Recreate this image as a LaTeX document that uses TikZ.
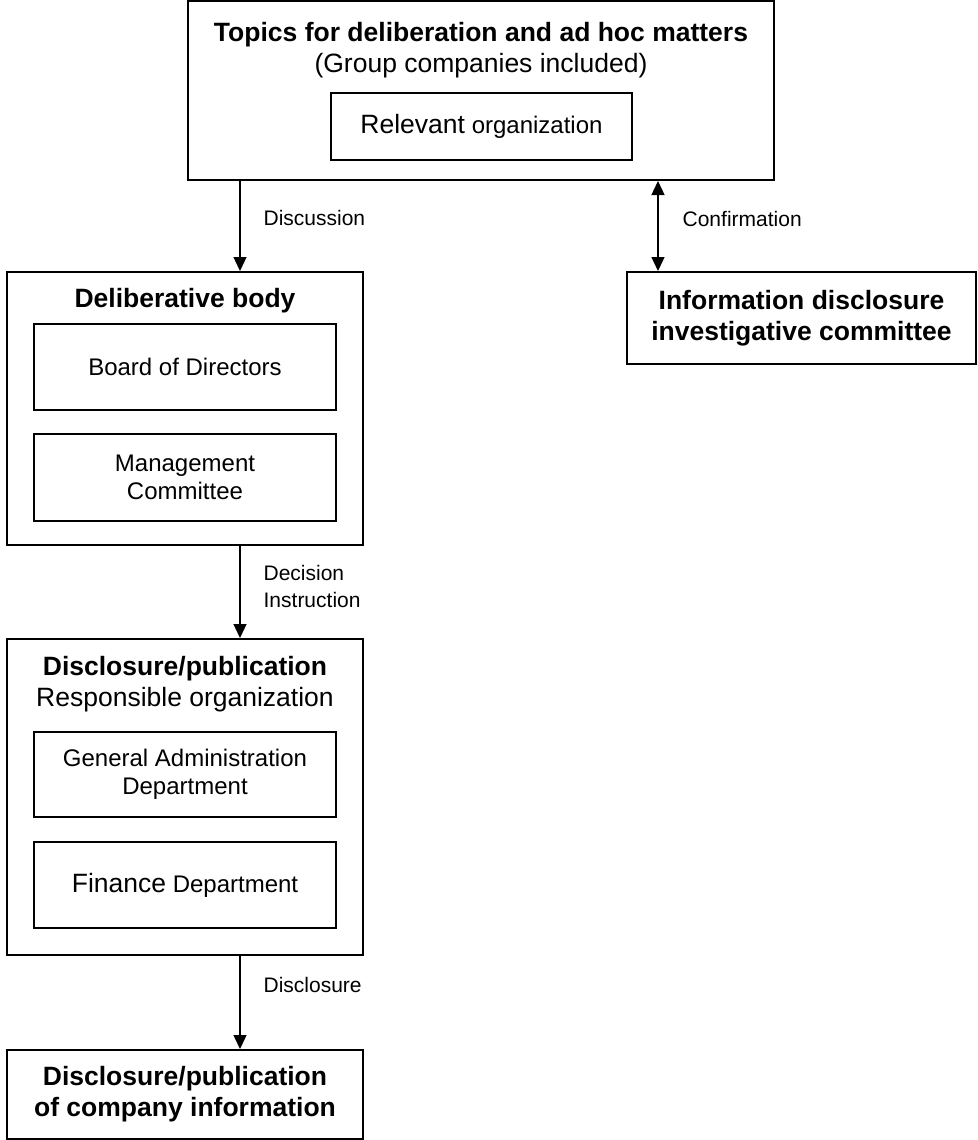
\documentclass[tikz,border=0pt]{standalone}
\usepackage{fontspec}
\setmainfont{Liberation Sans}
\usetikzlibrary{positioning,arrows.meta}

\tikzset{
  outer box/.style={draw, line width=2pt, inner sep=0pt, align=center},
  inner box/.style={draw, line width=2pt, inner sep=0pt, align=center,
    minimum width=302pt, font=\fontsize{24}{28}\selectfont},
  head text/.style={align=center, inner sep=0pt, font=\fontsize{26.5}{31}\selectfont},
  flow label/.style={align=left, inner sep=0pt, font=\fontsize{21}{27}\selectfont},
  flow/.style={line width=1.3pt}
}

\begin{document}
\begin{tikzpicture}[x=1pt, y=-1pt, >={Triangle[width=13pt,length=14pt]}]
	\useasboundingbox (0,0) rectangle (977,1140);

	%top
	\node [outer box, minimum width=586pt, minimum height=179pt] (topics) at (481,90.5) {};
	\node [head text] (topics-title) at (481,50)
	  {\textbf{Topics for deliberation and ad hoc matters}\\(Group companies included)};
	\node [inner box, minimum width=301pt, minimum height=67pt] (relevant) at (481.5,126.5)
	  {{\fontsize{26.5}{31}\selectfont Relevant} organization};

	%committee
	\node [outer box, head text, minimum width=349pt, minimum height=92pt] (committee) at (801.5,318)
	  {\textbf{Information disclosure}\\\textbf{investigative committee}};

	%deliberative body
	\node [outer box, minimum width=356pt, minimum height=273pt] (delib) at (185,408.5) {};
	\node [head text] (delib-title) at (185,300.5) {\textbf{Deliberative body}};
	\node [inner box, minimum height=86pt] (board) at (185,367) {Board of Directors};
	\node [inner box, minimum height=87pt] (mgmt) at (185,477.5) {Management\\Committee};

	%responsible organization
	\node [outer box, minimum width=356pt, minimum height=316pt] (dispub) at (185,797) {};
	\node [head text] (dispub-title) at (185,684)
	  {\textbf{Disclosure/publication}\\Responsible organization};
	\node [inner box, minimum height=85pt] (genadmin) at (185,774.5) {General Administration\\Department};
	\node [inner box, minimum height=86pt] (finance) at (185,885)
	  {{\fontsize{26.5}{31}\selectfont Finance} Department};

	%company information
	\node [outer box, head text, minimum width=356pt, minimum height=89pt] (companyinfo) at (185,1094.5)
	  {\textbf{Disclosure/publication}\\\textbf{of company information}};

	\coordinate (spine) at (240,0);
	\coordinate (confirm) at (658,0);

	\draw [flow, ->] (topics.south -| spine) -- (delib.north -| spine)
	  node [flow label, right=23pt, pos=0.41] {Discussion};
	\draw [flow, <->] (topics.south -| confirm) -- (committee.north -| confirm)
	  node [flow label, right=24pt, pos=0.42] {Confirmation};
	\draw [flow, ->] (delib.south -| spine) -- (dispub.north -| spine)
	  node [flow label, right=23pt, pos=0.44] {Decision\\Instruction};
	\draw [flow, ->] (dispub.south -| spine) -- (companyinfo.north -| spine)
	  node [flow label, right=23pt, pos=0.31] {Disclosure};
\end{tikzpicture}
\end{document}
